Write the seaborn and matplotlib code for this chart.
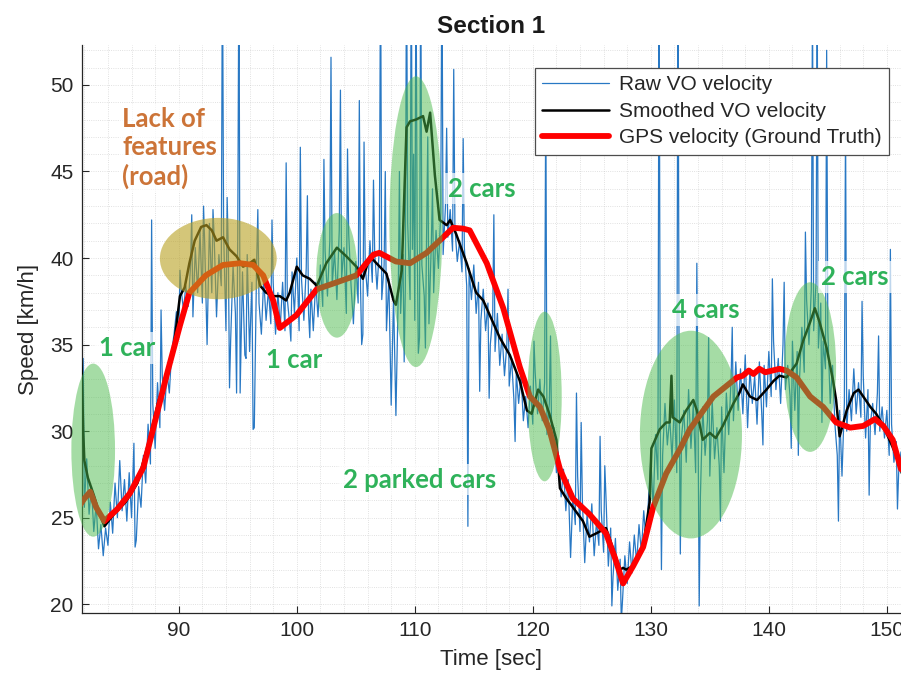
import numpy as np
import pandas as pd
import matplotlib
matplotlib.use("Agg")
import matplotlib.pyplot as plt
from matplotlib.patches import Ellipse
from matplotlib.ticker import MultipleLocator
import seaborn as sns

# ---------------- data ----------------
# raw visual-odometry speed, one sample every 0.2 s starting at 81.8 s
raw_start, raw_step = 81.8, 0.2
raw_speed = [
    27.8, 25.6, 28.4, 25.2, 26.8,   24.2, 25.8, 23.2, 24.6, 22.8,
    24.4, 23.4, 25.9, 24.1, 27.0,   25.0, 28.3, 25.4, 27.2, 24.8,
    27.6, 25.0, 29.3, 23.7, 26.8,   25.6, 28.6, 27.0, 30.4, 28.1,
    31.6, 29.0, 32.8, 30.2, 33.2,   31.2, 33.4, 32.2, 34.6, 35.6,
    36.9, 35.4, 38.2, 37.0, 38.4,   37.2, 39.6, 36.6, 40.6, 38.0,
    41.6, 37.4, 40.8, 35.0, 42.0,   38.0, 41.2, 36.6, 40.2, 38.4,
    41.5, 35.8, 40.4, 35.3, 39.6,   36.8, 41.4, 32.2, 39.2, 34.4,
    40.2, 34.6, 38.6, 30.2, 39.8,   37.4, 35.6, 38.8, 36.4, 38.2,
    36.2, 38.6, 35.6, 38.0, 36.0,   38.6, 35.8, 37.6, 36.2, 39.2,
    36.8, 40.0, 35.8, 38.8, 36.4,   39.4, 36.8, 38.2, 35.8, 38.6,
    36.6, 39.6, 37.2, 40.4, 37.8,   41.0, 38.4, 40.4, 37.6, 41.6,
    38.8, 40.6, 36.8, 41.4, 38.4,   36.2, 39.8, 37.4, 38.4, 35.6,
    39.6, 37.8, 41.0, 38.6, 40.4,   38.2, 40.6, 37.6, 39.6, 35.8,
    38.8, 31.5, 37.8, 30.9, 38.0,   36.8, 40.2, 38.4, 42.0, 37.6,
    40.5, 36.4, 41.2, 35.4, 39.6,   37.8, 41.4, 36.2, 40.8, 38.0,
    41.6, 39.4, 42.6, 40.2, 43.0,   41.2, 42.8, 40.4, 41.8, 39.8,
    41.0, 39.2, 40.6, 38.4, 39.4,   37.6, 39.6, 36.8, 38.6, 36.4,
    38.2, 35.8, 37.4, 35.0, 36.6,   34.6, 36.8, 33.8, 35.6, 33.2,
    35.0, 32.6, 34.2, 31.8, 33.4,   31.6, 33.2, 30.6, 32.0, 30.2,
    32.6, 30.4, 33.4, 31.0, 33.0,   30.6, 32.8, 29.8, 31.6, 29.4,
    30.2, 27.6, 28.6, 26.2, 27.8,   25.4, 27.2, 22.7, 26.4, 24.6,
    27.4, 24.2, 26.0, 22.4, 25.2,   23.6, 25.8, 22.8, 24.8, 23.4,
    25.4, 23.0, 26.2, 22.2, 24.4,   21.6, 23.8, 20.8, 22.6, 20.2,
    22.8, 21.2, 23.6, 21.8, 24.0,   22.4, 24.6, 23.0, 25.4, 23.6,
    26.0, 28.4, 25.6, 29.8, 27.2,   30.4, 28.6, 31.6, 29.2, 30.8,
    28.4, 31.8, 27.6, 32.6, 29.6,   31.2, 28.2, 32.4, 29.0, 31.6,
    27.6, 30.8, 26.2, 31.4, 28.6,   30.6, 27.4, 31.8, 28.4, 30.2,
    28.0, 31.4, 27.6, 32.2, 29.8,   33.0, 30.6, 34.0, 31.2, 33.6,
    31.0, 34.4, 30.2, 33.6, 31.6,   33.2, 30.4, 34.0, 31.0, 33.8,
    31.4, 34.6, 32.0, 35.2, 32.4,   34.2, 31.6, 35.0, 32.4, 33.8,
    32.0, 35.2, 31.2, 34.6, 33.0,   36.0, 33.4, 37.6, 35.0, 38.2,
    35.8, 38.6, 34.8, 37.4, 35.2,   33.6, 35.8, 31.6, 33.8, 30.4,
    28.6, 31.2, 27.4, 31.6, 30.0,   32.4, 30.6, 33.6, 31.0, 32.8,
    30.8, 33.2, 29.6, 32.4, 30.4,   31.6, 29.8, 32.2, 30.0, 31.4,
    29.6, 31.2, 28.6, 30.4, 28.2,   29.4, 27.6, 28.8, 26.8, 27.4,
]

# isolated outlier samples of the raw estimate (between regular samples)
spike_time = [
    81.9, 86.3, 87.7, 88.5, 90.1, 91.1, 92.1, 92.9, 93.7, 94.1, 94.3, 94.9,
    95.1, 95.7, 96.3, 96.7, 97.9, 99.1, 99.5, 100.3, 100.9, 101.1, 102.3,
    102.9, 103.7, 104.3, 105.3, 105.5, 105.7, 106.5, 107.1, 107.5, 108.7,
    109.1, 109.3, 109.7, 109.9, 110.1, 110.3, 110.5, 110.9, 111.1, 111.5,
    112.3, 112.7, 113.3, 114.1, 114.5, 115.5, 116.3, 116.7, 117.9, 118.5,
    120.1, 121.1, 121.5, 123.7, 124.1, 125.7, 126.1, 126.7, 127.5, 130.7,
    130.9, 132.3, 132.5, 133.9, 134.1, 134.9, 135.9, 136.9, 139.5, 140.3,
    141.3, 141.9, 142.5, 143.1, 143.7, 144.1, 144.5, 144.9, 145.9, 146.5,
    147.9, 148.5, 149.3, 150.3, 150.9,
]
spike_speed = [
    34.2, 23.3, 42.2, 37.0, 39.3, 42.5, 43.0, 42.8, 58.0, 43.5, 32.5, 32.2,
    58.0, 34.2, 30.1, 42.8, 42.2, 45.5, 35.2, 46.4, 43.6, 35.4, 45.7,
    51.6, 49.7, 46.3, 49.1, 35.0, 46.7, 44.5, 58.0, 45.0, 45.0,
    34.0, 58.0, 58.0, 46.0, 58.0, 34.5, 58.0, 34.8, 47.0, 44.0,
    58.0, 47.5, 50.9, 46.9, 24.5, 32.3, 31.9, 42.5, 38.2, 29.4,
    35.2, 50.0, 35.5, 32.2, 30.5, 29.7, 28.0, 19.9, 19.0, 58.0,
    22.0, 58.0, 22.9, 39.7, 19.9, 35.4, 24.8, 36.0, 29.2, 38.8,
    38.6, 29.0, 28.6, 41.5, 55.0, 55.0, 30.5, 52.0, 24.8, 48.0,
    37.5, 26.3, 35.5, 40.5, 25.5,
]

# smoothed visual-odometry speed
smooth_time = [
    81.7, 81.8, 81.9, 82.0, 82.3, 82.8, 83.3, 83.7, 84.5, 85.5, 86.5, 87.5,
    88.3, 89.0, 89.6, 90.1, 90.5, 90.9, 91.35, 91.9, 92.35, 92.8, 93.2,
    93.75, 94.3, 94.9, 95.45, 96.0, 96.4, 96.9, 97.4, 98.0, 98.56, 99.1,
    99.4, 100.0, 100.5, 101.1, 101.7, 102.5, 103.4, 104.2, 105.05, 105.6,
    106.2, 106.75, 107.6, 108.2, 108.4, 108.9, 109.3, 109.6, 110.1, 110.7,
    111.0, 111.3, 111.7, 112.1, 112.7, 113.0, 113.5, 114.4, 115.2, 115.8,
    116.35, 117.2, 118.05, 118.9, 119.5, 119.9, 120.45, 120.9, 121.4, 122.0,
    122.3, 122.85, 123.4, 124.25, 124.8, 125.4, 126.2, 126.95, 127.4,
    127.65, 127.9, 128.5, 129.35, 129.9, 130.05, 130.75, 131.3, 131.6,
    131.75, 131.85, 132.45, 133.0, 133.6, 133.9, 134.4, 135.0, 135.5,
    136.1, 137.0, 137.5, 137.8, 138.4, 139.0, 139.8, 140.4, 140.9, 141.5,
    142.35, 142.9, 143.5, 143.9, 144.3, 144.9, 145.45, 145.7, 146.0, 146.6,
    147.2, 147.6, 148.0, 148.6, 149.1, 149.7, 150.8, 151.4,
]
smooth_speed = [
    34.2, 33.0, 30.0, 28.3, 27.3, 26.3, 25.2, 24.5, 25.2, 25.9, 27.0, 29.5,
    31.8, 33.0, 35.0, 37.8, 38.3, 39.7, 41.0, 41.8, 41.9, 41.6, 41.0,
    41.2, 40.5, 40.1, 39.5, 39.7, 39.9, 38.4, 38.0, 37.8, 37.8, 37.55,
    38.0, 39.5, 39.0, 38.8, 38.4, 39.7, 40.6, 40.1, 39.5, 38.8,
    40.1, 39.7, 39.1, 37.55, 37.3, 39.3, 47.55, 47.9, 48.0, 48.2,
    47.3, 48.4, 44.8, 42.2, 41.9, 42.2, 41.4, 39.7, 38.0, 37.55,
    36.7, 35.4, 34.4, 32.9, 31.2, 31.0, 32.4, 32.0, 31.0, 29.5,
    26.7, 26.1, 25.6, 24.8, 23.9, 24.1, 24.4, 22.9, 22.0,
    22.1, 22.0, 22.2, 23.3, 25.9, 29.0, 30.1, 30.5, 30.5,
    33.2, 30.8, 30.5, 31.2, 31.8, 31.2, 29.5, 29.9, 29.6,
    30.3, 31.6, 32.2, 32.7, 32.0, 31.8, 32.4, 32.9, 33.2, 33.1,
    33.9, 35.2, 36.3, 37.1, 36.3, 34.8, 32.9, 31.8, 29.7, 31.2,
    32.2, 32.4, 32.0, 31.4, 31.0, 30.3, 28.6, 27.3,
]

# GPS reference speed
gps_time = [
    81.6, 82.0, 82.5, 83.0, 83.7, 84.8, 85.85, 87.0, 88.0, 89.0, 90.1, 90.9,
    92.3, 93.75, 95.2, 96.3, 97.15, 98.0, 98.56, 99.97, 101.7, 103.4,
    105.05, 106.5, 107.0, 108.4, 109.6, 111.0, 112.4, 113.25, 114.1, 114.65,
    116.1, 117.5, 118.9, 119.75, 120.6, 121.4, 122.3, 123.4, 124.8, 126.2,
    126.95, 127.65, 128.5, 129.35, 130.2, 131.3, 132.5, 133.3, 135.3,
    137.3, 137.8, 138.3, 138.7, 139.2, 139.7, 140.3, 140.9, 141.5, 142.35,
    143.5, 144.6, 145.7, 146.9, 148.0, 149.0, 149.7, 150.5, 151.2,
]
gps_speed = [
    25.7, 26.1, 26.5, 25.6, 24.8, 25.5, 26.4, 27.9, 30.6, 33.3, 36.1, 38.0,
    39.0, 39.6, 39.7, 39.6, 39.0, 37.55, 35.96, 36.7, 38.2, 38.6,
    39.0, 40.2, 40.3, 39.8, 39.7, 40.3, 41.2, 41.75, 41.7, 41.6,
    39.7, 37.1, 33.7, 32.0, 31.4, 30.1, 27.8, 26.1, 25.2, 24.1,
    22.7, 21.2, 22.2, 23.3, 25.6, 27.55, 29.0, 30.1, 32.0,
    33.1, 33.2, 33.5, 33.3, 33.6, 33.4, 33.5, 33.6, 33.5, 33.1,
    32.0, 31.4, 30.5, 30.2, 30.3, 30.7, 30.3, 29.5, 27.8,
]

# ---------------- tables ----------------
raw_time = raw_start + raw_step * np.arange(len(raw_speed))
raw_df = pd.DataFrame({
    "t": np.concatenate([raw_time, spike_time]),
    "v": np.concatenate([raw_speed, spike_speed]),
}).sort_values("t")
smooth_df = pd.DataFrame({"t": smooth_time, "v": smooth_speed})
gps_df = pd.DataFrame({"t": gps_time, "v": gps_speed})

# ---------------- figure ----------------
sns.set_theme(style="white")
plt.rcParams["font.family"] = ["Liberation Sans", "DejaVu Sans"]

fig = plt.figure(figsize=(9.01, 6.84), dpi=100)
ax = fig.add_axes([0.091, 0.104, 0.909, 0.830])

sns.lineplot(data=raw_df, x="t", y="v", ax=ax, color="#2878c4", linewidth=0.9,
             estimator=None, sort=False, label="Raw VO velocity", zorder=2)
sns.lineplot(data=smooth_df, x="t", y="v", ax=ax, color="black", linewidth=1.8,
             estimator=None, sort=False, label="Smoothed VO velocity", zorder=3)
sns.lineplot(data=gps_df, x="t", y="v", ax=ax, color="#ff0000", linewidth=4.2,
             estimator=None, sort=False, label="GPS velocity (Ground Truth)", zorder=4)

# highlighted regions
regions = [
    # (centre t, centre v, width, height, colour, alpha)
    (82.75, 28.9, 3.7, 10.0, "#4cbb4c", 0.5),
    (93.35, 39.97, 9.9, 4.7, "#b8a020", 0.6),
    (103.4, 39.0, 3.5, 7.2, "#4cbb4c", 0.5),
    (110.1, 42.1, 4.5, 16.8, "#4cbb4c", 0.5),
    (121.0, 32.0, 2.9, 9.8, "#4cbb4c", 0.5),
    (133.4, 29.8, 8.65, 12.0, "#4cbb4c", 0.5),
    (143.5, 33.7, 4.4, 9.8, "#4cbb4c", 0.5),
]
for cx, cy, w, h, col, a in regions:
    ax.add_patch(Ellipse((cx, cy), w, h, facecolor=col, edgecolor="none",
                         alpha=a, zorder=5, clip_on=False))

green_txt = "#2fb25a"
box = dict(facecolor="white", edgecolor="none", alpha=0.7, pad=2.5)
notes = [
    (85.6, 34.8, "1 car"),
    (99.8, 34.1, "1 car"),
    (115.7, 44.0, "2 cars"),
    (110.4, 27.2, "2 parked cars"),
    (134.7, 37.0, "4 cars"),
    (147.3, 38.9, "2 cars"),
]
for tx, ty, s in notes:
    ax.text(tx, ty, s, color=green_txt, fontsize=18.5, fontweight="bold",
            family=["Lato", "DejaVu Sans"], ha="center", va="center",
            bbox=box, zorder=6)
ax.text(85.2, 48.7, "Lack of\nfeatures\n(road)", color="#cc7438", fontsize=18.5,
        fontweight="bold", family=["Lato", "DejaVu Sans"], ha="left", va="top",
        linespacing=1.2, bbox=box, zorder=6)

# axes styling
ax.set_xlim(81.8, 151.2)
ax.set_ylim(19.5, 52.3)
ax.set_xticks([90, 100, 110, 120, 130, 140, 150])
ax.set_yticks([20, 25, 30, 35, 40, 45, 50])
ax.xaxis.set_minor_locator(MultipleLocator(2))
ax.yaxis.set_minor_locator(MultipleLocator(1))
ax.grid(which="minor", linestyle=":", color="#bdbdbd", linewidth=0.6, alpha=0.6)
ax.grid(which="major", linestyle=":", color="#bdbdbd", linewidth=0.6, alpha=0.6)
ax.tick_params(which="major", direction="in", length=5, width=0.8,
               labelsize=15, colors="#262626", bottom=True, left=True, pad=6)
ax.tick_params(which="minor", length=0)
for side in ("top", "right"):
    ax.spines[side].set_visible(False)
for side in ("left", "bottom"):
    ax.spines[side].set_color("#262626")
    ax.spines[side].set_linewidth(0.9)

ax.set_xlabel("Time [sec]", fontsize=16, color="#262626", labelpad=6)
ax.set_ylabel("Speed [km/h]", fontsize=16, color="#262626", labelpad=8)
ax.set_title("Section 1", fontsize=17.5, fontweight="bold", color="#1a1a1a", pad=9)

leg = ax.legend(loc="upper left", bbox_to_anchor=(0.553, 0.9595), borderaxespad=0,
                fontsize=15, frameon=True, fancybox=False, framealpha=1,
                edgecolor="#4d4d4d", handlelength=3.2, labelspacing=0.36,
                borderpad=0.35, handletextpad=0.5)
leg.get_frame().set_linewidth(0.9)
leg.set_zorder(10)

fig.savefig("out.png", dpi=100)
